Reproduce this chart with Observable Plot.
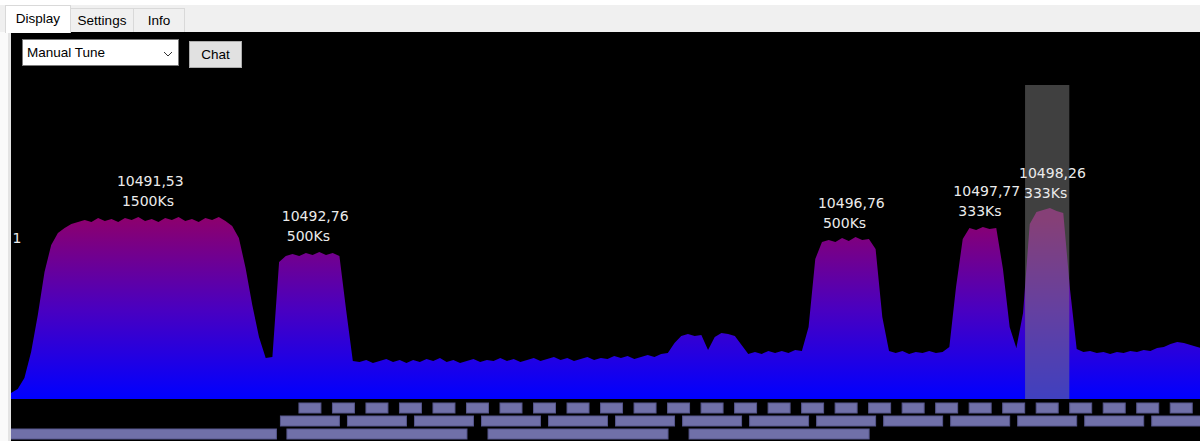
<!DOCTYPE html>
<html>
<head>
<meta charset="utf-8">
<script src="https://cdn.jsdelivr.net/npm/d3@7"></script>
<script src="https://cdn.jsdelivr.net/npm/@observablehq/plot@0.6"></script>
<style>
html,body{margin:0;padding:0;width:1200px;height:441px;overflow:hidden;background:#f0f0f0;font-family:"Liberation Sans",Arial,sans-serif;}
#topband{position:absolute;left:0;top:0;width:1200px;height:5px;background:#ffffff;}
.tab{position:absolute;box-sizing:border-box;border:1px solid #d9d9d9;border-bottom:none;background:#f0f0f0;font-size:13.5px;color:#000;display:flex;align-items:center;justify-content:center;}
#tab-display{left:5px;top:5px;width:66px;height:28px;background:#ffffff;z-index:2;padding-bottom:2px;}
#tab-settings{left:70px;top:8px;width:64px;height:24px;}
#tab-info{left:133px;top:8px;width:52px;height:24px;}
#leftA{position:absolute;left:0;top:32px;width:8px;height:409px;background:#fafafa;}
#leftB{position:absolute;left:8px;top:32px;width:3px;height:409px;background:#e4e4e4;}
#panel{position:absolute;left:11px;top:32px;width:1189px;height:409px;background:#000;overflow:hidden;}
#main{position:absolute;left:0;top:0;}
#strip{position:absolute;left:0;top:368px;}
#combo{position:absolute;left:11px;top:7px;width:157px;height:27px;box-sizing:border-box;background:#fff;border:1px solid #7a7a7a;font-size:13.5px;display:flex;align-items:center;padding-left:4px;z-index:3;}
#combo svg{position:absolute;left:140px;top:11px;}
#chat{position:absolute;left:178px;top:9px;width:53px;height:27px;box-sizing:border-box;background:#e1e1e1;border:1px solid #adadad;font-size:13.5px;display:flex;align-items:center;justify-content:center;z-index:3;}
svg{display:block;}
</style>
</head>
<body>
<div id="topband"></div>
<div class="tab" id="tab-display">Display</div>
<div class="tab" id="tab-settings">Settings</div>
<div class="tab" id="tab-info">Info</div>
<div id="leftA"></div><div id="leftB"></div>
<div id="panel">
  <div id="main"></div>
  <div id="strip"></div>
  <div id="combo">Manual Tune<svg width="10" height="6" viewBox="0 0 10 6"><polyline points="1,1 5,5 9,1" fill="none" stroke="#333" stroke-width="1"/></svg></div>
  <div id="chat">Chat</div>
</div>
<script>
// ---------------- data ----------------
// spectrum analyser bins (MHz) and levels
const specStartMHz = 10490.52;
const binMHz = 0.05;
const specLevel = [
  6,10,21,47,84,127,154,166,171,175,
  177,179,177,181,178,180,177,181,179,182,
  178,180,177,181,179,182,178,180,177,181,
  179,182,178,173,161,131,94,62,41,42,
  137,143,145,143,146,144,147,144,146,143,
  89,38,37,39,36,38,40,37,39,36,
  39,37,40,38,41,37,39,36,38,40,
  37,39,38,41,38,40,37,39,41,38,
  40,42,39,41,38,40,42,39,41,40,
  43,41,43,40,42,44,42,45,46,56,
  63,65,63,64,49,62,66,65,63,54,
  45,47,45,48,46,48,46,49,48,72,
  140,157,159,157,161,158,162,159,160,150,
  82,48,46,48,45,47,46,48,46,47,
  52,112,160,171,169,172,170,171,130,72,
  51,86,175,187,189,191,188,186,110,50,
  47,48,46,47,45,47,46,48,47,49,
  48,51,52,55,57,56,54,52,50
];

// detected signals
const sigFreq = [10491.53, 10492.76, 10496.76, 10497.77, 10498.26];
const sigRate = [1500, 500, 500, 333, 333];
const sigPeak = [181, 146, 159, 171, 189];

// reference level marker
const refLabel = ["1"];
const refLevel = [161];

// selected signal cursor band
const cursorFrom = [10498.085];
const cursorTo = [10498.415];
const displayTop = 314;

// channel plan rows
const rowNames = ["333Ks", "500Ks", "1500Ks"];
const ch333 = [10492.75,10493.00,10493.25,10493.50,10493.75,10494.00,10494.25,10494.50,10494.75,
  10495.00,10495.25,10495.50,10495.75,10496.00,10496.25,10496.50,10496.75,10497.00,10497.25,
  10497.50,10497.75,10498.00,10498.25,10498.50,10498.75,10499.00,10499.25];
const ch333Bw = 0.164;
const ch500 = [10492.75,10493.25,10493.75,10494.25,10494.75,10495.25,10495.75,10496.25,
  10496.75,10497.25,10497.75,10498.25,10498.75,10499.25];
const ch500Bw = 0.44;
const chWide = [10491.50, 10493.25, 10494.75, 10496.25];
const chWideBw = [2.0, 1.343, 1.343, 1.343];

const xDomain = [10490.52, 10499.39];

// ---------------- build ----------------
const spec = specLevel.map((v, i) => ({f: specStartMHz + i * binMHz, level: v}));
const signals = sigFreq.map((f, i) => ({freq: f, sr: sigRate[i], level: sigPeak[i]}));
const refs = refLabel.map((t, i) => ({label: t, level: refLevel[i]}));
const cursor = cursorFrom.map((a, i) => ({from: a, to: cursorTo[i]}));
const channels = [
  ...ch333.map(f => ({row: rowNames[0], f, bw: ch333Bw})),
  ...ch500.map(f => ({row: rowNames[1], f, bw: ch500Bw})),
  ...chWide.map((f, i) => ({row: rowNames[2], f, bw: chWideBw[i]}))
];
const fmt = f => d3.format(".2f")(f).replace(".", ",");
const W = 1189;
const labelFont = {fill: "#ebebeb", fontSize: 14, fontFamily: "DejaVu Sans", textAnchor: "start"};

function gradientDefs(index, scales) {
  const y0 = scales && scales.y ? scales.y(0) : 367;
  const y1 = scales && scales.y ? scales.y(180) : 187;
  const defs = d3.create("svg:defs");
  const g = defs.append("linearGradient")
    .attr("id", "specGrad").attr("gradientUnits", "userSpaceOnUse")
    .attr("x1", 0).attr("x2", 0).attr("y1", y0).attr("y2", y1);
  g.append("stop").attr("offset", 0).attr("stop-color", "#0000ff");
  g.append("stop").attr("offset", 0.5).attr("stop-color", "#4a00c0");
  g.append("stop").attr("offset", 1).attr("stop-color", "#8c006e");
  return defs.node();
}

const main = Plot.plot({
  width: W, height: 368,
  margin: 0, marginBottom: 1,
  x: {domain: xDomain, axis: null},
  y: {domain: [0, 367], axis: null},
  style: {background: "#000", overflow: "hidden"},
  marks: [
    gradientDefs,
    Plot.areaY(spec, {x: "f", y: "level", fill: "url(#specGrad)", curve: "linear", clip: true}),
    Plot.rect(cursor, {x1: "from", x2: "to", y1: 0, y2: displayTop, fill: "#808080", fillOpacity: 0.5}),
    Plot.text(signals, {x: "freq", y: "level", text: d => fmt(d.freq), dx: -30, dy: -37, ...labelFont}),
    Plot.text(signals, {x: "freq", y: "level", text: d => d.sr + "Ks", dx: -25, dy: -17, ...labelFont}),
    Plot.text(refs, {x: xDomain[0], y: "level", text: "label", dx: 1, ...labelFont})
  ]
});
document.getElementById("main").appendChild(main);

const strip = Plot.plot({
  width: W, height: 41,
  margin: 0,
  x: {domain: xDomain, axis: null},
  y: {type: "band", domain: rowNames, paddingInner: 0.2308, paddingOuter: 0.1923, axis: null},
  style: {background: "#000", overflow: "hidden"},
  marks: [
    Plot.barX(channels, {x1: d => d.f - d.bw / 2, x2: d => d.f + d.bw / 2, y: "row",
      fill: "#7070a8", stroke: "#56568c", strokeWidth: 1, clip: true})
  ]
});
document.getElementById("strip").appendChild(strip);
</script>
</body>
</html>
